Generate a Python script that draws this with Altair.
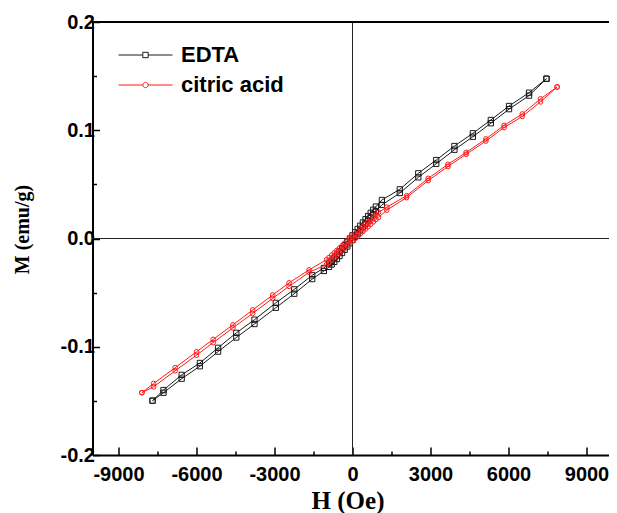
import altair as alt
import pandas as pd

series_names = ["EDTA", "citric acid"]
series_colors = ["#1a1a1a", "#ff1a1a"]

# EDTA: descending branch (from +H max to -H max)
edta_down_H = [7460, 6790, 6020, 5320, 4630, 3920, 3220, 2530, 1820, 1130, 900, 800, 700, 600, 500,
               400, 300, 200, 100, 0, -100, -200, -300, -400, -500, -600, -700, -800, -900, -1100,
               -1550, -2240, -2950, -3770, -4470, -5170, -5870, -6570, -7270, -7690]
edta_down_M = [0.1476, 0.1347, 0.1224, 0.1095, 0.0972, 0.0854, 0.0725, 0.0602, 0.0454, 0.0356,
               0.0295, 0.0266, 0.0237, 0.0208, 0.0178, 0.0148, 0.0118, 0.0088, 0.0058, 0.0029,
               0.0000, -0.0030, -0.0060, -0.0090, -0.0120, -0.0149, -0.0178, -0.0205, -0.0230,
               -0.0272, -0.0340, -0.0470, -0.0595, -0.0750, -0.0872, -0.1010, -0.1150, -0.1260,
               -0.1400, -0.1498]
# EDTA: ascending branch
edta_up_H = [-7690, -7270, -6570, -5870, -5170, -4470, -3770, -2950, -2240, -1550, -1100, -900, -800,
             -700, -600, -500, -400, -300, -200, -100, 0, 100, 200, 300, 400, 500, 600, 700, 800, 900,
             1130, 1820, 2530, 3220, 3920, 4630, 5320, 6020, 6790, 7460]
edta_up_M = [-0.1498, -0.1425, -0.1295, -0.1180, -0.1045, -0.0915, -0.0790, -0.0640, -0.0510, -0.0375,
             -0.0300, -0.0262, -0.0240, -0.0216, -0.0190, -0.0162, -0.0134, -0.0104, -0.0074, -0.0044,
             -0.0014, 0.0016, 0.0046, 0.0076, 0.0106, 0.0136, 0.0166, 0.0195, 0.0224, 0.0252,
             0.0310, 0.0420, 0.0565, 0.0690, 0.0820, 0.0940, 0.1065, 0.1195, 0.1320, 0.1476]

# citric acid: descending branch
citric_down_H = [7870, 7230, 6530, 5830, 5130, 4370, 3670, 2910, 2080, 1320, 1000, 900, 800, 700, 600,
                 500, 400, 300, 200, 100, 0, -100, -200, -300, -400, -500, -600, -700, -800, -900,
                 -1000, -1670, -2440, -3070, -3840, -4600, -5360, -6000, -6820, -7650, -8100]
citric_down_M = [0.1400, 0.1290, 0.1150, 0.1045, 0.0920, 0.0795, 0.0685, 0.0555, 0.0395, 0.0290,
                 0.0242, 0.0220, 0.0198, 0.0176, 0.0154, 0.0132, 0.0110, 0.0088, 0.0066, 0.0044,
                 0.0022, 0.0000, -0.0022, -0.0044, -0.0066, -0.0088, -0.0110, -0.0132, -0.0154,
                 -0.0176, -0.0196, -0.0290, -0.0410, -0.0522, -0.0660, -0.0798, -0.0932, -0.1047,
                 -0.1193, -0.1340, -0.1424]
# citric acid: ascending branch
citric_up_H = [-8100, -7650, -6820, -6000, -5360, -4600, -3840, -3070, -2440, -1670, -1000, -900, -800,
               -700, -600, -500, -400, -300, -200, -100, 0, 100, 200, 300, 400, 500, 600, 700, 800,
               900, 1000, 1320, 2080, 2910, 3670, 4370, 5130, 5830, 6530, 7230, 7870]
citric_up_M = [-0.1424, -0.1370, -0.1222, -0.1078, -0.0962, -0.0826, -0.0692, -0.0553, -0.0442, -0.0312,
               -0.0242, -0.0220, -0.0198, -0.0176, -0.0154, -0.0132, -0.0110, -0.0088, -0.0066, -0.0044,
               -0.0022, 0.0000, 0.0022, 0.0044, 0.0066, 0.0088, 0.0110, 0.0132, 0.0154, 0.0176,
               0.0196, 0.0262, 0.0378, 0.0535, 0.0665, 0.0778, 0.0900, 0.1025, 0.1128, 0.1262, 0.1400]

x_tick_values = [-9000, -7500, -6000, -4500, -3000, -1500, 0, 1500, 3000, 4500, 6000, 7500, 9000]
y_tick_values = [-0.2, -0.15, -0.1, -0.05, 0.0, 0.05, 0.1, 0.15, 0.2]
x_domain = [-10000, 9846]
y_domain = [-0.2, 0.2]


def build(name, dH, dM, uH, uM):
    H = dH + uH
    M = dM + uM
    return pd.DataFrame({"series": name, "H": H, "M": M, "order": list(range(len(H)))})


df = pd.concat([
    build("EDTA", edta_down_H, edta_down_M, edta_up_H, edta_up_M),
    build("citric acid", citric_down_H, citric_down_M, citric_up_H, citric_up_M),
], ignore_index=True)

x_is_major = "datum.value % 3000 == 0"
y_is_major = "abs(round(datum.value * 20)) % 2 == 0"

x_axis = alt.Axis(
    values=x_tick_values,
    labelExpr=f"{x_is_major} ? (datum.value < 0 ? '-' + format(-datum.value, 'd') : format(datum.value, 'd')) : ''",
    tickSize={"condition": {"test": x_is_major, "value": -8}, "value": -4},
    tickColor="black", tickWidth=1.5,
    domainColor="black", domainWidth=2,
    labelFont="Liberation Sans", labelFontWeight="bold", labelFontSize=20, labelColor="black",
    labelPadding=17,
    grid=False,
    title="H (Oe)",
    titleFont="Liberation Serif", titleFontWeight="bold", titleFontSize=25, titleColor="black",
    titleX=255, titleY=45, titleBaseline="middle",
)
y_axis = alt.Axis(
    values=y_tick_values,
    labelExpr=f"{y_is_major} ? (datum.value < 0 ? '-' + format(-datum.value, '.1f') : format(datum.value, '.1f')) : ''",
    tickSize={"condition": {"test": y_is_major, "value": -7}, "value": -4},
    tickColor="black", tickWidth=1.5,
    domainColor="black", domainWidth=2,
    labelFont="Liberation Sans", labelFontWeight="bold", labelFontSize=20, labelColor="black",
    labelPadding=5,
    grid=False,
    title="M (emu/g)",
    titleFont="Liberation Serif", titleFontWeight="bold", titleFontSize=20, titleColor="black",
    titleX=-70, titleY=207, titleBaseline="middle",
)

x_enc = alt.X("H:Q", scale=alt.Scale(domain=x_domain, nice=False, zero=False), axis=x_axis)
y_enc = alt.Y("M:Q", scale=alt.Scale(domain=y_domain, nice=False, zero=False), axis=y_axis)

base = alt.Chart(df)

zero_v = base.mark_rule(color="#222", strokeWidth=1).encode(x=alt.datum(0))
zero_h = base.mark_rule(color="#222", strokeWidth=1).encode(y=alt.datum(0))
top_frame = base.mark_rule(color="black", strokeWidth=2).encode(y=alt.datum(y_domain[1]))

layers = [zero_v, zero_h, top_frame]
shapes = ["square", "circle"]
sizes = [28, 22]
for name, col, shp, sz in zip(series_names, series_colors, shapes, sizes):
    sub = base.transform_filter(alt.datum.series == name)
    layers.append(sub.mark_line(color=col, strokeWidth=1).encode(x=x_enc, y=y_enc, order="order:Q"))
    layers.append(sub.mark_point(shape=shp, size=sz, color=col, strokeWidth=1, filled=False, opacity=1)
                  .encode(x=x_enc, y=y_enc))

sq_path = "M-1,0H-0.1M0.1,0H1M-0.1,-0.1H0.1V0.1H-0.1Z"
ci_path = "M-1,0H-0.1M0.1,0H1M-0.1,0A0.1,0.1 0 1,0 0.1,0A0.1,0.1 0 1,0 -0.1,0Z"

legend = alt.Legend(
    orient="none", legendX=25.5, legendY=22, title=None,
    symbolSize=2916, symbolStrokeWidth=1, symbolOpacity=1, symbolFillColor="transparent",
    labelFont="Liberation Sans", labelFontWeight="bold", labelFontSize=22, labelColor="black",
    labelOffset=8, padding=0, rowPadding=8, clipHeight=22,
)
legend_layer = base.mark_point(opacity=0, filled=False).encode(
    x=x_enc, y=y_enc,
    color=alt.Color("series:N", scale=alt.Scale(domain=series_names, range=series_colors), legend=legend),
    shape=alt.Shape("series:N", scale=alt.Scale(domain=series_names, range=[sq_path, ci_path]), legend=legend),
)
layers.append(legend_layer)

chart = alt.layer(*layers).properties(
    width=516, height=433,
    padding={"left": 84.5, "top": 14, "right": 0, "bottom": 62},
    autosize=alt.AutoSizeParams(type="none"),
).configure_view(stroke=None)

chart.save("out.html", embed_options={"renderer": "svg", "actions": False})
